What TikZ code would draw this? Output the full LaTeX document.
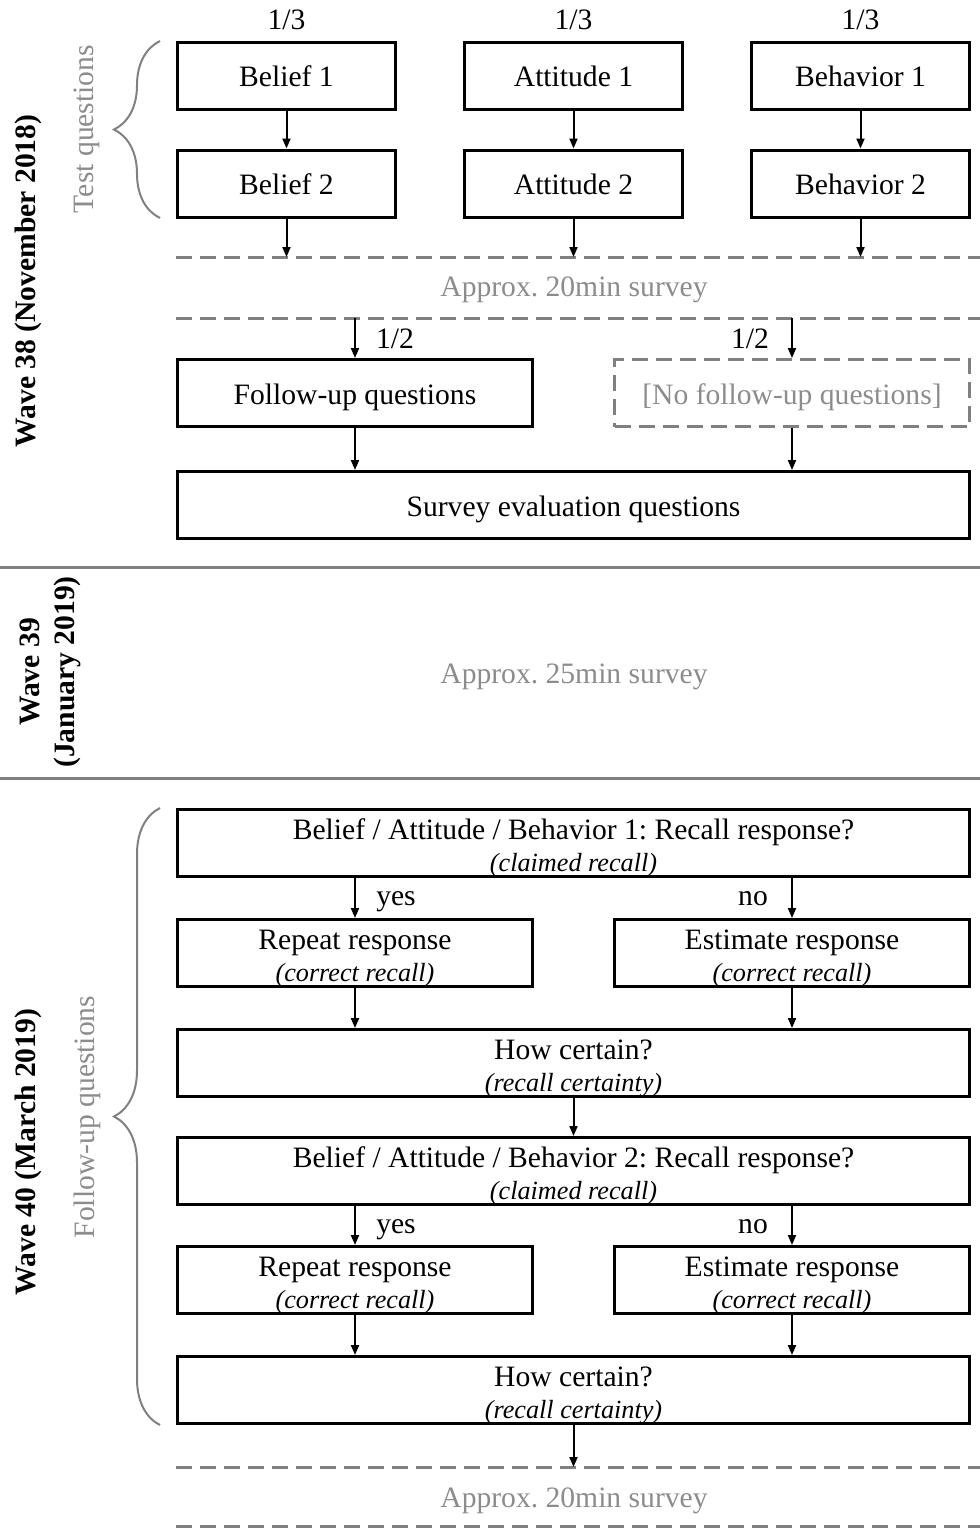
\documentclass[tikz,border=0pt]{standalone}
\usepackage{fontspec}
\setmainfont{Liberation Serif}
\usetikzlibrary{arrows.meta,decorations.pathreplacing}
\definecolor{linegray}{RGB}{128,128,128}
\definecolor{textgray}{RGB}{140,140,140}
\newcommand{\recnote}[1]{{\fontsize{13.1}{16}\selectfont\itshape #1}}
\newcommand{\twoline}[2]{\raisebox{0pt}[10pt][14pt]{\begin{tabular}[t]{@{}c@{}}#1\\\recnote{#2}\end{tabular}}}
\frenchspacing
\begin{document}
\begin{tikzpicture}[x=0.5pt,y=-0.5pt,
	>={Triangle[length=5pt,width=4pt]},
	every node/.style={font=\fontsize{14.8}{16}\selectfont},
	qbox/.style={draw,line width=1.5pt,minimum height=33.5pt,inner sep=0pt,align=center},
	oneline/.style={text height=12pt,text depth=0.7pt},
	smallbox/.style={qbox,oneline,minimum width=109pt},
	halfbox/.style={qbox,minimum width=177.5pt},
	widebox/.style={qbox,minimum width=396pt},
	flow/.style={->,line width=1pt},
	sepline/.style={linegray,line width=1.5pt,dash pattern=on 8pt off 4pt},
	waverule/.style={linegray,line width=1.5pt},
	graytext/.style={text=textgray},
	wavelabel/.style={rotate=90,font=\fontsize{14.8}{17.5}\selectfont\bfseries,align=center},
	bracket/.style={linegray,line width=1pt,decorate,decoration={brace,amplitude=23pt}}]
	\useasboundingbox (0,0) rectangle (980,1528);
	\node[smallbox] (bel1) at (286.5,75.5) {Belief 1};
	\node[smallbox] (bel2) at (286.5,183.5) {Belief 2};
	\node[smallbox] (att1) at (573.5,75.5) {Attitude 1};
	\node[smallbox] (att2) at (573.5,183.5) {Attitude 2};
	\node[smallbox] (beh1) at (860.5,75.5) {Behavior 1};
	\node[smallbox] (beh2) at (860.5,183.5) {Behavior 2};
	\node (pbel) at (286.5,20) {1/3};
	\node (patt) at (573.5,20) {1/3};
	\node (pbeh) at (860.5,20) {1/3};
	\draw[flow] (bel1) -- (bel2);
	\draw[flow] (att1) -- (att2);
	\draw[flow] (beh1) -- (beh2);
	\coordinate (sa) at (176,257);
	\coordinate (sb) at (980,257);
	\coordinate (sc) at (176,318);
	\coordinate (sd) at (980,318);
	\draw[sepline] (sa) -- (sb);
	\draw[sepline] (sc) -- (sd);
	\draw[flow] (bel2) -- (bel2 |- sa);
	\draw[flow] (att2) -- (att2 |- sa);
	\draw[flow] (beh2) -- (beh2 |- sa);
	\node[graytext] (surv1) at (574,290) {Approx. 20min survey};
	\node[halfbox,oneline] (fu) at (355,393) {Follow-up questions};
	\node[halfbox,oneline,draw=linegray,dash pattern=on 8pt off 4pt,text=textgray] (nofu) at (792,393) {[No follow-up questions]};
	\node (pfu) at (395,339) {1/2};
	\node (pnofu) at (750,339) {1/2};
	\draw[flow] (fu |- sc) -- (fu);
	\draw[flow] (nofu |- sc) -- (nofu);
	\node[widebox,oneline] (eval) at (573.5,505) {Survey evaluation questions};
	\draw[flow] (fu) -- (fu |- eval.north);
	\draw[flow] (nofu) -- (nofu |- eval.north);
	\draw[waverule] (0,567) -- (980,567);
	\draw[waverule] (0,778) -- (980,778);
	\node[graytext] (surv2) at (574,677) {Approx. 25min survey};
	\node[widebox] (rec1) at (573.5,843) {\twoline{Belief / Attitude / Behavior 1: Recall response?}{(claimed recall)}};
	\node[halfbox] (rep1) at (355,953) {\twoline{Repeat response}{(correct recall)}};
	\node[halfbox] (est1) at (792,953) {\twoline{Estimate response}{(correct recall)}};
	\node[widebox] (cert1) at (573.5,1063) {\twoline{How certain?}{(recall certainty)}};
	\node[widebox] (rec2) at (573.5,1171) {\twoline{Belief / Attitude / Behavior 2: Recall response?}{(claimed recall)}};
	\node[halfbox] (rep2) at (355,1280) {\twoline{Repeat response}{(correct recall)}};
	\node[halfbox] (est2) at (792,1280) {\twoline{Estimate response}{(correct recall)}};
	\node[widebox] (cert2) at (573.5,1390) {\twoline{How certain?}{(recall certainty)}};
	\node (yes1) at (396,902) {yes};
	\node (no1) at (753,899) {no};
	\node (yes2) at (396,1230) {yes};
	\node (no2) at (753,1227) {no};
	\draw[flow] (rep1 |- rec1.south) -- (rep1);
	\draw[flow] (est1 |- rec1.south) -- (est1);
	\draw[flow] (rep1) -- (rep1 |- cert1.north);
	\draw[flow] (est1) -- (est1 |- cert1.north);
	\draw[flow] (cert1) -- (rec2);
	\draw[flow] (rep2 |- rec2.south) -- (rep2);
	\draw[flow] (est2 |- rec2.south) -- (est2);
	\draw[flow] (rep2) -- (rep2 |- cert2.north);
	\draw[flow] (est2) -- (est2 |- cert2.north);
	\coordinate (se) at (176,1467);
	\coordinate (sf) at (980,1467);
	\coordinate (sg) at (176,1526);
	\coordinate (sh) at (980,1526);
	\draw[sepline] (se) -- (sf);
	\draw[sepline] (sg) -- (sh);
	\draw[flow] (cert2) -- (cert2 |- se);
	\node[graytext] (surv3) at (574,1501) {Approx. 20min survey};
	\draw[bracket] (160,218) -- (160,41);
	\draw[bracket] (160,1425) -- (160,808);
	\node[graytext,rotate=90] (testq) at (87,129) {Test questions};
	\node[graytext,rotate=90] (followq) at (87,1117) {Follow-up questions};
	\node[wavelabel] (w38) at (28,281) {Wave 38 (November 2018)};
	\node[wavelabel] (w39) at (50,672) {Wave 39\\(January 2019)};
	\node[wavelabel] (w40) at (28,1152) {Wave 40 (March 2019)};
\end{tikzpicture}
\end{document}
